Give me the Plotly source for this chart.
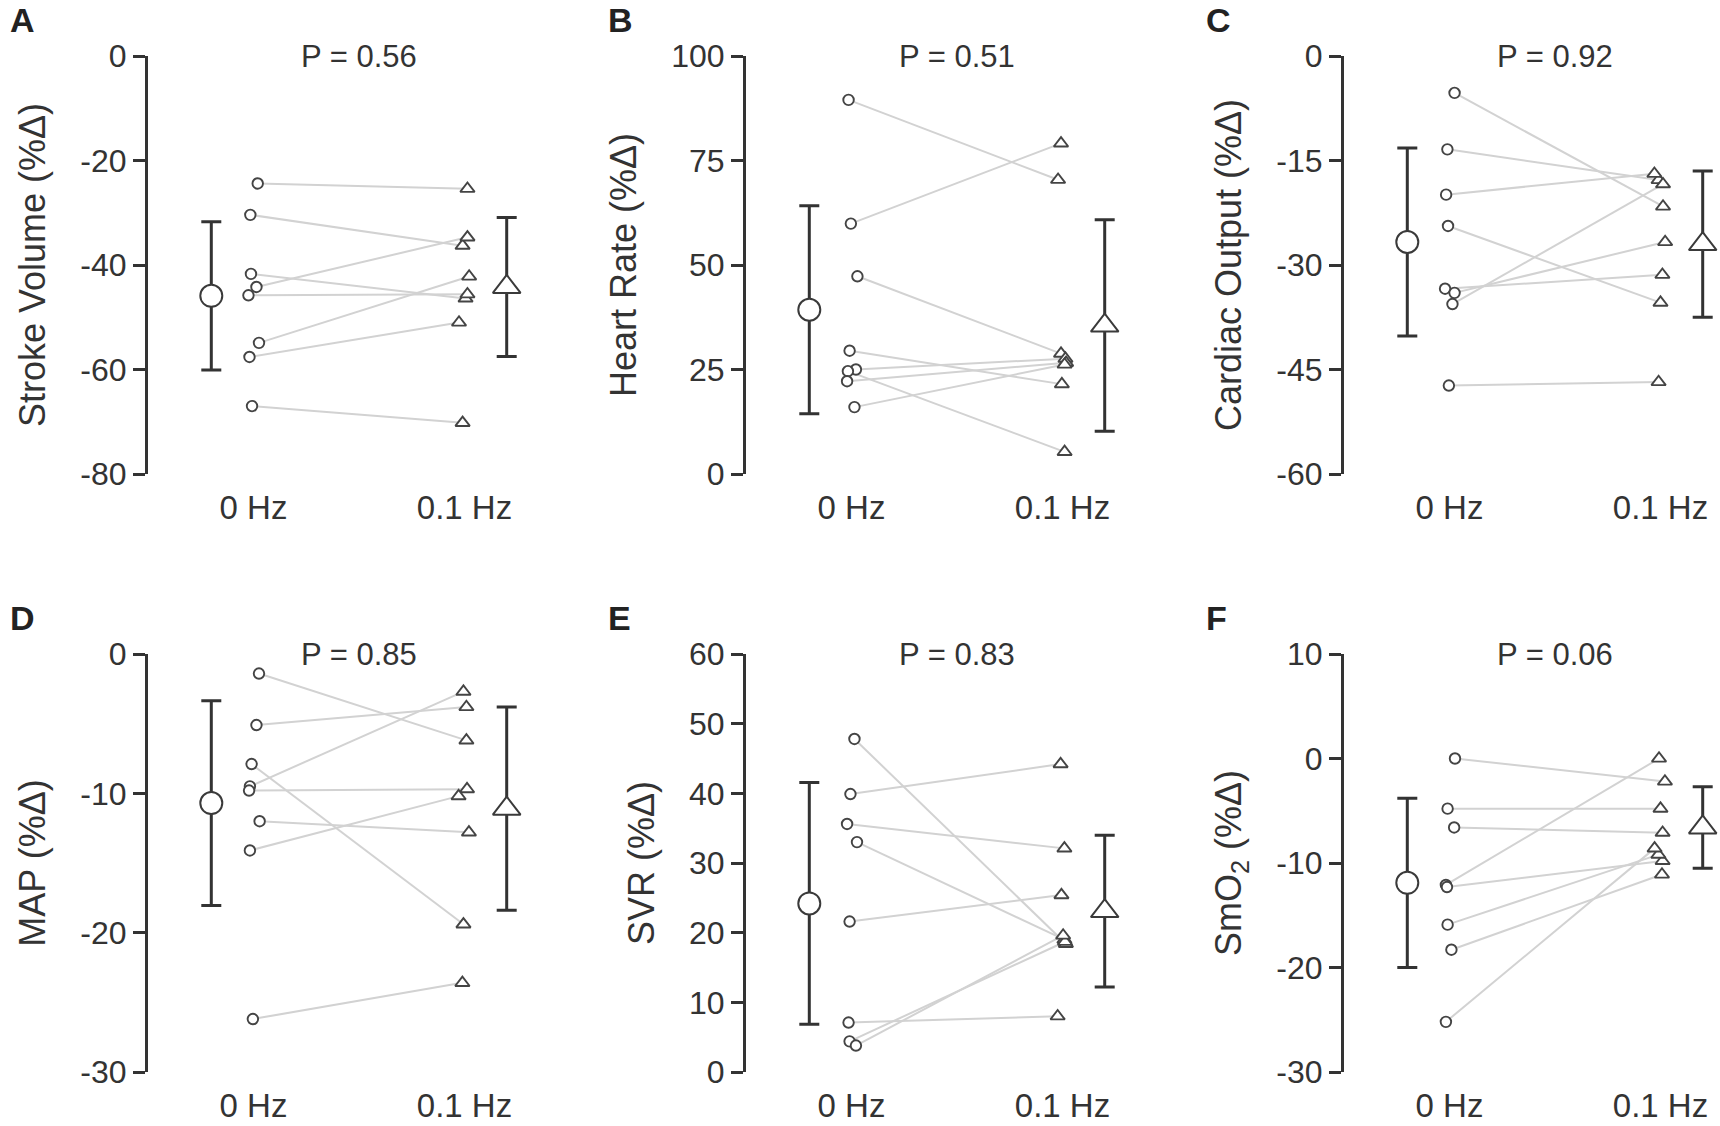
import plotly.graph_objects as go
from plotly.subplots import make_subplots

groups = ["0 Hz", "0.1 Hz"]

# A - stroke volume (%change), paired subjects
sv_0hz = [-24.4, -30.4, -41.7, -44.2, -45.8, -54.9, -57.6, -67.0]
sv_01hz = [-25.4, -36.3, -46.4, -34.7, -45.6, -42.2, -51.0, -70.2]
sv_jit0 = [0.02, -0.015, -0.012, 0.014, -0.024, 0.026, -0.019, -0.007]
sv_jit1 = [0.014, -0.009, 0.005, 0.014, 0.014, 0.022, -0.026, -0.009]
sv_mean = [-45.9, -44.2]
sv_sd = [14.2, 13.3]
sv_ticks = [0, -20, -40, -60, -80]

# B - heart rate
hr_0hz = [89.5, 59.9, 47.3, 29.5, 25.0, 24.6, 22.2, 16.0]
hr_01hz = [70.4, 79.1, 28.8, 21.5, 27.6, 5.3, 26.6, 26.2]
hr_jit0 = [-0.014, -0.003, 0.028, -0.009, 0.021, -0.017, -0.021, 0.014]
hr_jit1 = [-0.021, -0.007, -0.007, -0.003, 0.014, 0.010, 0.017, 0.010]
hr_mean = [39.3, 35.5]
hr_sd = [24.9, 25.3]
hr_ticks = [0, 25, 50, 75, 100]

# C - cardiac output
co_0hz = [-5.3, -13.4, -19.9, -24.4, -33.4, -34.0, -35.6, -47.3]
co_01hz = [-21.6, -17.8, -16.9, -35.4, -31.4, -26.7, -18.4, -46.8]
co_jit0 = [0.024, -0.01, -0.016, -0.007, -0.021, 0.024, 0.014, -0.003]
co_jit1 = [0.012, -0.009, -0.029, 0.0, 0.009, 0.022, 0.012, -0.009]
co_mean = [-26.7, -27.0]
co_sd = [13.5, 10.5]
co_ticks = [0, -15, -30, -45, -60]

# D - mean arterial pressure
map_0hz = [-1.4, -5.1, -7.9, -9.5, -9.8, -12.0, -14.1, -26.2]
map_01hz = [-6.2, -3.8, -19.4, -2.7, -9.7, -12.8, -10.2, -23.6]
map_jit0 = [0.026, 0.014, -0.009, -0.017, -0.021, 0.029, -0.017, -0.003]
map_jit1 = [0.009, 0.009, -0.005, -0.005, 0.012, 0.021, -0.028, -0.01]
map_mean = [-10.7, -11.1]
map_sd = [7.35, 7.3]
map_ticks = [0, -10, -20, -30]

# E - systemic vascular resistance
svr_0hz = [47.8, 39.9, 35.6, 33.0, 21.6, 7.1, 4.4, 3.8]
svr_01hz = [18.4, 44.2, 32.1, 19.0, 25.4, 8.0, 18.7, 19.6]
svr_jit0 = [0.014, -0.005, -0.021, 0.026, -0.009, -0.014, -0.009, 0.021]
svr_jit1 = [0.016, -0.009, 0.009, 0.009, -0.005, -0.023, 0.012, 0.003]
svr_mean = [24.2, 23.1]
svr_sd = [17.35, 10.9]
svr_ticks = [0, 10, 20, 30, 40, 50, 60]

# F - muscle oxygen saturation
smo2_0hz = [0.0, -4.8, -6.6, -12.1, -12.3, -15.9, -18.3, -25.2]
smo2_01hz = [-2.2, -4.8, -7.1, 0.0, -9.8, -9.2, -11.1, -8.6]
smo2_jit0 = [0.026, -0.009, 0.022, -0.017, -0.012, -0.009, 0.009, -0.017]
smo2_jit1 = [0.021, 0.0, 0.01, -0.007, 0.01, -0.01, 0.007, -0.028]
smo2_mean = [-11.9, -6.6]
smo2_sd = [8.1, 3.9]
smo2_ticks = [10, 0, -10, -20, -30]

p_values = ["0.56", "0.51", "0.92", "0.85", "0.83", "0.06"]
letters = ["A", "B", "C", "D", "E", "F"]
y_titles = ["Stroke Volume (%Δ)", "Heart Rate (%Δ)", "Cardiac Output (%Δ)",
            "MAP (%Δ)", "SVR (%Δ)", "SmO<sub>2</sub> (%Δ)"]

panels = [
    (sv_0hz, sv_01hz, sv_jit0, sv_jit1, sv_mean, sv_sd, sv_ticks),
    (hr_0hz, hr_01hz, hr_jit0, hr_jit1, hr_mean, hr_sd, hr_ticks),
    (co_0hz, co_01hz, co_jit0, co_jit1, co_mean, co_sd, co_ticks),
    (map_0hz, map_01hz, map_jit0, map_jit1, map_mean, map_sd, map_ticks),
    (svr_0hz, svr_01hz, svr_jit0, svr_jit1, svr_mean, svr_sd, svr_ticks),
    (smo2_0hz, smo2_01hz, smo2_jit0, smo2_jit1, smo2_mean, smo2_sd, smo2_ticks),
]

W, H = 1720, 1126
AX = "#333333"
FONT = "Liberation Sans, Arial, sans-serif"

fig = make_subplots(rows=2, cols=3)

# pixel layout of the panels
col_left = [148, 746, 1344]
panel_w = 376
row_top = [56, 654]
panel_h = 418

for i, (v0, v1, j0, j1, mean, sd, ticks) in enumerate(panels):
    r, c = i // 3 + 1, i % 3 + 1

    # paired lines
    lx, ly = [], []
    for a, b, ja, jb in zip(v0, v1, j0, j1):
        lx += [0 + ja, 1 + jb, None]
        ly += [a, b, None]
    fig.add_trace(go.Scatter(x=lx, y=ly, mode="lines",
                             line=dict(color="#d2d2d2", width=2),
                             hoverinfo="skip", cliponaxis=False), row=r, col=c)

    # individual points
    fig.add_trace(go.Scatter(x=[0 + j for j in j0], y=v0, mode="markers",
                             marker=dict(symbol="circle", size=10.5, color="white",
                                         line=dict(color="#444444", width=1.9)),
                             cliponaxis=False), row=r, col=c)
    fig.add_trace(go.Scatter(x=[1 + j for j in j1], y=v1, mode="markers",
                             marker=dict(symbol="triangle-up", size=12.5, color="white",
                                         line=dict(color="#444444", width=1.9)),
                             cliponaxis=False), row=r, col=c)

    # group mean +- sd
    for k, sym, size in [(0, "circle", 22), (1, "triangle-up", 24)]:
        fig.add_trace(go.Scatter(
            x=[k - 0.2 if k == 0 else k + 0.2], y=[mean[k]], mode="markers",
            marker=dict(symbol=sym, size=size, color="white",
                        line=dict(color="#3a3a3a", width=2)),
            error_y=dict(type="data", array=[sd[k]], color=AX, thickness=3, width=10),
            cliponaxis=False), row=r, col=c)

    x0 = col_left[c - 1] / W
    fig.update_xaxes(domain=[x0, min(1, x0 + panel_w / W)], range=[-0.5, -0.5 + panel_w / 211],
                     tickvals=[0, 1], ticktext=groups, showline=False, showgrid=False,
                     zeroline=False, ticks="", ticklabelstandoff=11,
                     tickfont=dict(size=33, color=AX), automargin=False, row=r, col=c)
    top = row_top[r - 1]
    fig.update_yaxes(domain=[1 - (top + panel_h) / H, 1 - top / H],
                     range=[min(ticks), max(ticks)], tickvals=ticks,
                     ticktext=[str(t) for t in ticks],
                     showline=True, linewidth=3, linecolor=AX, ticks="outside",
                     ticklen=12, tickwidth=3, tickcolor=AX, showgrid=False, zeroline=False,
                     tickfont=dict(size=32, color=AX), automargin=False,
                     title=dict(text=y_titles[i], font=dict(size=36, color=AX), standoff=24),
                     row=r, col=c)

    xref = "x" if i == 0 else "x%d" % (i + 1)
    yref = "y" if i == 0 else "y%d" % (i + 1)
    fig.add_annotation(x=0.5, y=max(ticks), xref=xref, yref=yref,
                       text="P = " + p_values[i], showarrow=False,
                       font=dict(size=31, color=AX), yanchor="middle")
    fig.add_annotation(x=(col_left[c - 1] - 140) / W, y=1 - (row_top[r - 1] - 36) / H,
                       xref="paper", yref="paper", text="<b>%s</b>" % letters[i],
                       showarrow=False, xanchor="left", yanchor="middle",
                       font=dict(size=34, color="#222222"))

fig.update_layout(width=W, height=H, margin=dict(l=0, r=0, t=0, b=0),
                  plot_bgcolor="white", paper_bgcolor="white", showlegend=False,
                  font=dict(family=FONT, color=AX))

fig.write_html("out.html", config={"displayModeBar": False},
               post_script="document.body.style.margin='0';document.body.style.overflow='hidden';")
